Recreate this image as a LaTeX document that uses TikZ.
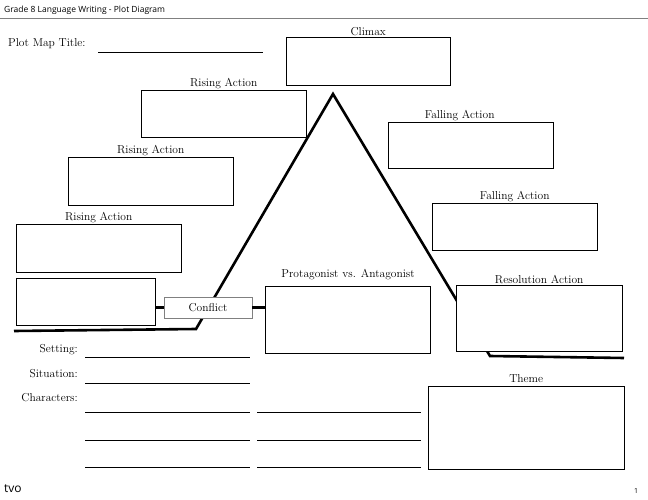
\documentclass[tikz,border=0pt]{standalone}
\usepackage{fontspec}
\newfontfamily\headfont{Open Sans}
\usetikzlibrary{positioning}
\tikzset{
  box/.style={draw,thin,inner sep=0pt,anchor=north west},
  lbl/.style={font=\fontsize{11.5}{13}\selectfont,inner sep=1pt},
  blank/.style={thin},
}
\begin{document}
\begin{tikzpicture}[x=1pt,y=-1pt]
  \useasboundingbox (0,0) rectangle (648,500);
  % Header
  \node[anchor=west,font=\headfont\fontsize{8.5}{10}\selectfont,inner sep=0pt] (head) at (4,10) {Grade 8 Language Writing - Plot Diagram};
  \draw[gray,thick] (0,18) -- (648,18);
  \node[lbl,anchor=west,inner sep=0pt] (title) at (8,44) {Plot Map Title:};
  \draw[blank] (98,52) -- (263,52);

  % Plot line
  \coordinate (p0) at (14,331);
  \coordinate (p1) at (196,329);
  \coordinate (top) at (333,94);
  \coordinate (p3) at (490,356);
  \coordinate (p4) at (624,358);
  \draw[line width=2.6pt] (p0) -- (p1) -- (top) -- (p3) -- (p4);

  % Boxes
  \node[box,minimum width=164,minimum height=48,fill=white] (climax) at (286,37) {};
  \node[lbl,above=0pt of climax] {Climax};
  \node[box,minimum width=165,minimum height=47] (rise3) at (141,90) {};
  \node[lbl,above=0pt of rise3] {Rising Action};
  \node[box,minimum width=165,minimum height=48] (rise2) at (68,157) {};
  \node[lbl,above=0pt of rise2] {Rising Action};
  \node[box,minimum width=165,minimum height=48] (rise1) at (16,224) {};
  \node[lbl,above=0pt of rise1] {Rising Action};
  \node[box,minimum width=165,minimum height=46] (fall1) at (388,122) {};
  \node[lbl,above=0pt of fall1] {\makebox[0pt]{\hspace*{-22pt}Falling Action}};
  \node[box,minimum width=165,minimum height=47] (fall2) at (432,203) {};
  \node[lbl,above=0pt of fall2] {Falling Action};
  \node[box,minimum width=166,minimum height=66,fill=white] (resol) at (456,285) {};
  \node[lbl,above=0pt of resol] {Resolution Action};
  \node[box,minimum width=196,minimum height=83] (theme) at (428,386) {};
  \node[lbl,above=2pt of theme] {Theme};

  % Conflict row
  \node[box,very thick,minimum width=139,minimum height=47] (expo) at (16,278) {};
  \node[draw=gray,fill=white,lbl,inner sep=0pt,minimum width=88,minimum height=21] (conflict) at (208,307.5) {Conflict};
  \node[box,very thick,minimum width=165,minimum height=67,fill=white] (protag) at (265,286) {};
  \node[lbl,above=5pt of protag] {Protagonist vs. Antagonist};
  \draw[line width=2.4pt] (expo.east |- conflict.west) -- (conflict.west);
  \draw[line width=2.4pt] (conflict.east) -- (protag.west |- conflict.east);

  % Story details
  \node[lbl,anchor=east] (setting) at (79,350) {Setting:};
  \draw[blank] (85,357) -- (250,357);
  \node[lbl,anchor=east] (situation) at (79,374) {Situation:};
  \draw[blank] (85,383) -- (250,383);
  \node[lbl,anchor=east] (chars) at (79,398) {Characters:};
  \foreach \y in {412,440,467} {
    \draw[blank] (85,\y) -- (250,\y);
    \draw[blank] (257,\y) -- (421,\y);
  }

  % Footer
  \node[anchor=west,font=\headfont\large,inner sep=0pt] (tvo) at (4,489) {tvo};
  \node[font=\headfont\scriptsize,inner sep=0pt] (page) at (636,491) {1};
\end{tikzpicture}
\end{document}
